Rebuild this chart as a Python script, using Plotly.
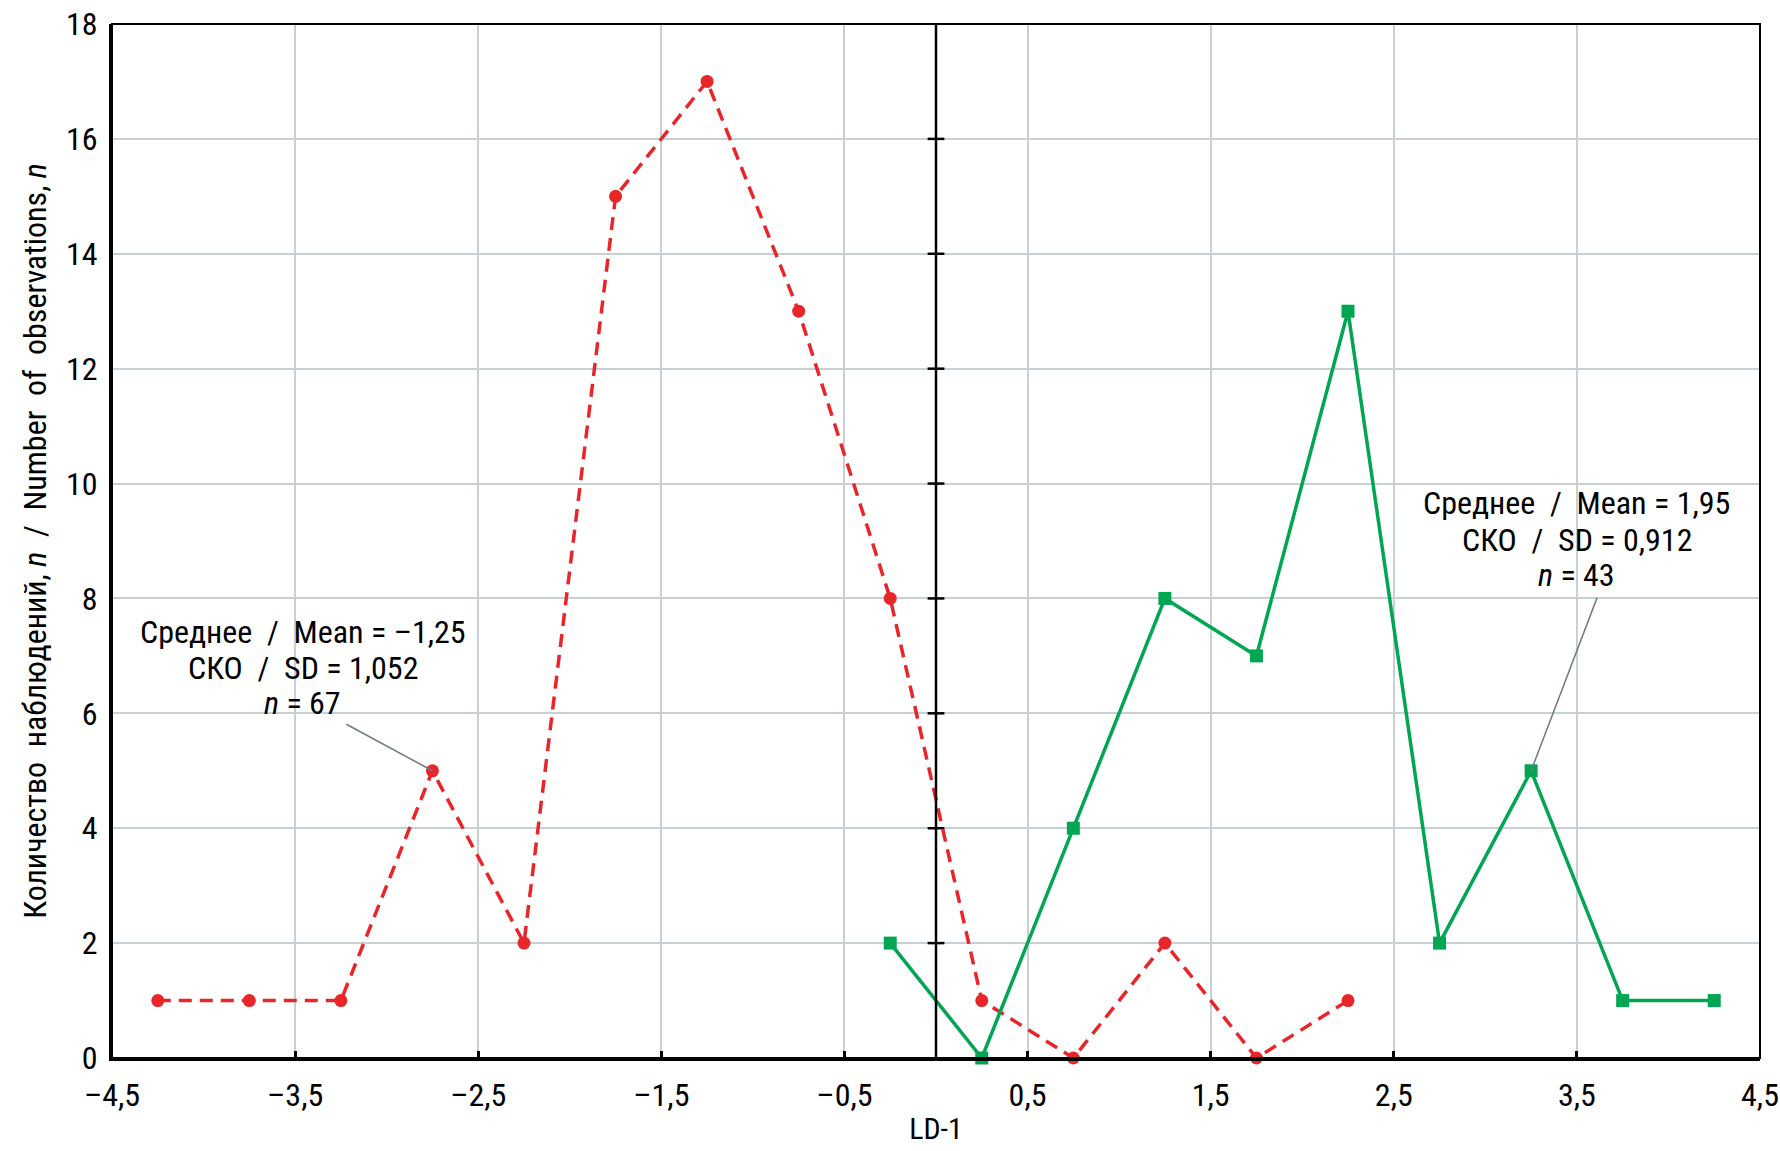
import plotly.graph_objects as go

# Data
red_x = [-4.25, -3.75, -3.25, -2.75, -2.25, -1.75, -1.25, -0.75, -0.25, 0.25, 0.75, 1.25, 1.75, 2.25]
red_y = [1, 1, 1, 5, 2, 15, 17, 13, 8, 1, 0, 2, 0, 1]
green_x = [-0.25, 0.25, 0.75, 1.25, 1.75, 2.25, 2.75, 3.25, 3.75, 4.25]
green_y = [2, 0, 4, 8, 7, 13, 2, 5, 1, 1]

x_tickvals = [-4.5, -3.5, -2.5, -1.5, -0.5, 0.5, 1.5, 2.5, 3.5, 4.5]
x_ticktext = ["–4,5", "–3,5", "–2,5", "–1,5", "–0,5", "0,5", "1,5", "2,5", "3,5", "4,5"]
y_tickvals = [0, 2, 4, 6, 8, 10, 12, 14, 16, 18]
zero_ticks_y = [2, 4, 6, 8, 10, 12, 14, 16]

left_lines = ["Среднее  /  Mean = –1,25", "СКО  /  SD = 1,052", "<i>n</i> = 67"]
right_lines = ["Среднее  /  Mean = 1,95", "СКО  /  SD = 0,912", "<i>n</i> = 43"]

FONT = "Liberation Sans Narrow, Roboto Condensed, DejaVu Sans Condensed, Arial Narrow, sans-serif"
RED = "#e8262a"
GREEN = "#00a651"

fig = go.Figure()

# zero vertical line
fig.add_shape(type="line", x0=0, x1=0, y0=0, y1=18, xref="x", yref="y",
              line=dict(color="black", width=2.5), layer="above")
# crossing ticks on zero line
fig.add_trace(go.Scatter(x=[0]*len(zero_ticks_y), y=zero_ticks_y, mode="markers",
                         marker=dict(symbol="line-ew-open", size=12, color="black",
                                     line=dict(color="black", width=2.5)),
                         hoverinfo="skip", showlegend=False))

fig.add_trace(go.Scatter(x=red_x, y=red_y, mode="lines+markers",
                         line=dict(color=RED, width=3.5, dash="13px,8px"),
                         marker=dict(symbol="circle", size=13, color=RED),
                         showlegend=False, cliponaxis=False))
fig.add_trace(go.Scatter(x=green_x, y=green_y, mode="lines+markers",
                         line=dict(color=GREEN, width=3.5),
                         marker=dict(symbol="square", size=13, color=GREEN),
                         showlegend=False, cliponaxis=False))

# leader lines
fig.add_shape(type="line", x0=-3.22, y0=5.81, x1=-2.75, y1=5, xref="x", yref="y",
              line=dict(color="#707a80", width=1.5))
fig.add_shape(type="line", x0=3.61, y0=8.01, x1=3.25, y1=5, xref="x", yref="y",
              line=dict(color="#707a80", width=1.5))

# annotations (one per line for tight spacing)
for txt, yy in zip(left_lines, [7.42, 6.79, 6.18]):
    fig.add_annotation(x=-3.457, y=yy, xref="x", yref="y", showarrow=False, text=txt,
                       font=dict(family=FONT, size=32, color="black"), align="center")
for txt, yy in zip(right_lines, [9.66, 9.02, 8.41]):
    fig.add_annotation(x=3.50, y=yy, xref="x", yref="y", showarrow=False, text=txt,
                       font=dict(family=FONT, size=32, color="black"), align="center")

# frame
fig.add_shape(type="rect", x0=0, x1=1, y0=0, y1=1, xref="paper", yref="paper",
              line=dict(color="black", width=2), layer="above")

fig.update_layout(
    width=1780, height=1151,
    margin=dict(l=112, r=20, t=24, b=93),
    plot_bgcolor="white", paper_bgcolor="white",
    font=dict(family=FONT, size=32, color="black"),
    xaxis=dict(range=[-4.5, 4.5], tickvals=x_tickvals, ticktext=x_ticktext,
               showgrid=True, gridcolor="#c8d0d5", gridwidth=1.5,
               showline=True, linecolor="black", linewidth=3,
               ticks="inside", ticklen=7, tickwidth=2.5, tickcolor="black",
               zeroline=False, automargin=False, ticklabelstandoff=7,
               ticklabeloverflow="allow",
               title=dict(text="LD-1", font=dict(size=30), standoff=5),
               tickfont=dict(size=32)),
    yaxis=dict(range=[0, 18], tickvals=y_tickvals,
               showgrid=True, gridcolor="#c8d0d5", gridwidth=1.5,
               showline=True, linecolor="black", linewidth=3,
               ticks="", zeroline=False, automargin=False, ticklabelstandoff=5,
               ticklabeloverflow="allow",
               title=dict(text="Количество  наблюдений, <i>n</i>  /  Number  of  observations, <i>n</i>",
                          font=dict(size=32), standoff=10),
               tickfont=dict(size=32)),
)

fig.write_html("out.html", config={"displayModeBar": False},
               post_script="document.body.style.margin='0';")
